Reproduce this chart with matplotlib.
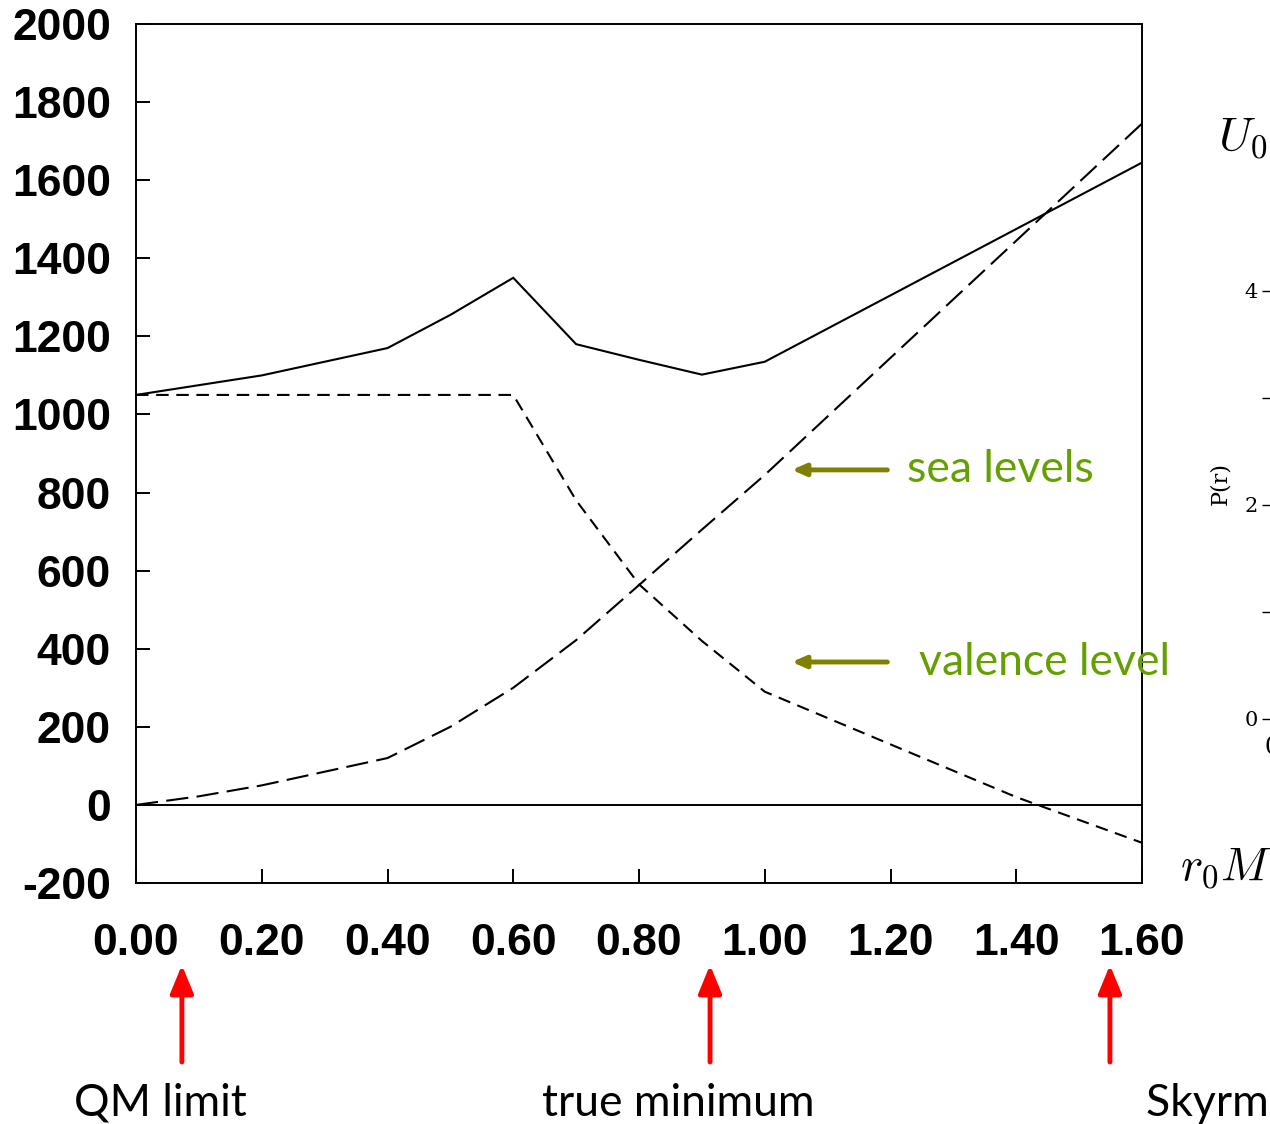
import matplotlib
matplotlib.use("Agg")
import matplotlib.pyplot as plt

plt.rcParams['lines.scale_dashes'] = False
plt.rcParams['mathtext.fontset'] = 'cm'

# Energies versus r0*M
r = [0.0, 0.1, 0.2, 0.3, 0.4, 0.5, 0.6, 0.7, 0.8, 0.9, 1.0, 1.2, 1.4, 1.6]
total = [1050, 1075, 1100, 1135, 1170, 1255, 1350, 1180, 1140, 1102, 1135, 1305, 1475, 1645]
sea = [0, 22, 50, 85, 120, 200, 300, 422, 563, 705, 845, 1145, 1445, 1745]
valence = [1050, 1050, 1050, 1050, 1050, 1050, 1050, 780, 565, 420, 290, 155, 20, -97]

xticks = [0.0, 0.2, 0.4, 0.6, 0.8, 1.0, 1.2, 1.4, 1.6]
yticks = [-200, 0, 200, 400, 600, 800, 1000, 1200, 1400, 1600, 1800, 2000]

# markers along the r0*M axis
marks = [0.073, 0.913, 1.549]
mark_labels = ["QM limit", "true minimum", "Skyrme limit"]

W, H = 1270, 1124
fig = plt.figure(figsize=(W / 100, H / 100), dpi=100)
ax = fig.add_axes([136 / W, 1 - 883 / H, (1142 - 136) / W, (883 - 24) / H])

ax.plot(r, total, color='black', lw=1.5, solid_joinstyle='miter')
ax.plot(r, sea, color='black', lw=1.5, dashes=(16, 6))
ax.plot(r, valence, color='black', lw=1.5, dashes=(9, 5.5))
ax.axhline(0, color='black', lw=1.4)

ax.set_xlim(0, 1.6)
ax.set_ylim(-200, 2000)
ax.set_xticks(xticks)
ax.set_xticklabels([f"{v:.2f}" for v in xticks])
ax.set_yticks(yticks)
ax.set_yticklabels([str(v) for v in yticks])
for s in ax.spines.values():
    s.set_linewidth(1.4)
ax.tick_params(direction='in', length=10, width=1.4, labelsize=32)
ax.tick_params(axis='y', pad=18)
ax.tick_params(axis='x', pad=29)
for lab in ax.get_xticklabels() + ax.get_yticklabels():
    lab.set_fontfamily('Liberation Sans')
    lab.set_fontweight('bold')

# level annotations
green_txt = '#64a000'
olive = '#808000'
for y, txt, tx in [(858, "sea levels", 907), (366, "valence level", 919)]:
    ax.annotate("", xy=(1.043, y), xytext=(1.195, y),
                arrowprops=dict(arrowstyle='-|>,head_length=0.8,head_width=0.35',
                                color=olive, lw=3.5, shrinkA=0, shrinkB=0))
    fig.text(tx / W, 1 - (805 - y * 0.3905) / H, txt, color=green_txt,
             fontsize=32, fontfamily='Lato', va='center', ha='left', zorder=5)

# red arrows and labels below the axis
label_x = [160, 678, 1146]
label_ha = ['center', 'center', 'left']
for xm, lab, lx, ha in zip(marks, mark_labels, label_x, label_ha):
    xpix = 136 + xm * (1142 - 136) / 1.6
    fig.add_artist(matplotlib.patches.FancyArrowPatch(
        (xpix / W, 1 - 1062 / H), (xpix / W, 1 - 965 / H),
        transform=fig.transFigure, arrowstyle='-|>,head_length=0.85,head_width=0.35',
        color='red', lw=3.5, mutation_scale=20, shrinkA=0, shrinkB=0))
    fig.text(lx / W, 1 - 1103 / H, lab, fontsize=32, fontfamily='Lato',
             ha=ha, va='center', color='black')

# neighbouring panel, mostly off the right edge
fig.text(1218 / W, 1 - 137 / H, r"$U_0$", fontsize=34, va='center', ha='left')
fig.text(1180 / W, 1 - 868 / H, r"$r_0M$", fontsize=34, va='center', ha='left')

ax2 = fig.add_axes([1272 / W, 1 - 719 / H, 0.2, (719 - 248) / H])
ax2.set_ylim(0, 4.4)
ax2.set_xlim(0, 1)
ax2.set_yticks([0, 2, 4])
ax2.set_yticks([1, 3], minor=True)
ax2.set_xticks([0])
ax2.tick_params(axis='y', which='both', direction='out', length=7, width=1, labelsize=15, pad=3)
ax2.tick_params(axis='x', direction='out', length=0, labelsize=17, pad=12)
for lab in ax2.get_yticklabels() + ax2.get_xticklabels():
    lab.set_fontfamily('DejaVu Serif')
ax2.set_ylabel("P(r)", fontsize=16, fontfamily='DejaVu Serif', labelpad=10)
for s in ax2.spines.values():
    s.set_visible(False)

fig.savefig("out.png", dpi=100)
